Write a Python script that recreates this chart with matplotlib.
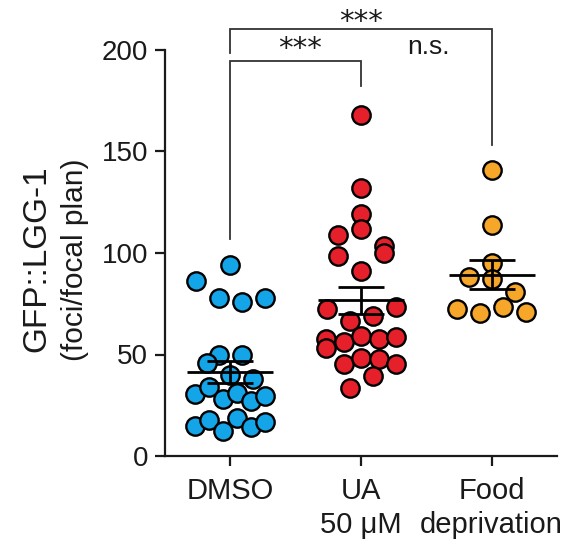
import numpy as np
import matplotlib
matplotlib.use("Agg")
import matplotlib.pyplot as plt

# ---------------- data ----------------
categories = ["DMSO", "UA\n50 μM", "Food\ndeprivation"]
dmso = [94, 86, 78, 76, 78, 50, 46, 50, 40, 38, 30.5, 34, 28, 31, 27, 29.5,
        15, 17.7, 12.3, 18.7, 14.3, 16.7]
ua = [168, 132, 119, 109, 112, 103.4, 98.5, 91, 100, 72.4, 66.5, 69, 73.4,
      57.6, 56, 59, 57.6, 58.6, 53, 45.3, 48.3, 47.8, 45.3, 33.5, 39.4]
food = [141, 114, 95, 88, 87, 81, 72.4, 70.4, 73.4, 71]
groups = [dmso, ua, food]
colors = ["#14A5E8", "#E5202A", "#F6A72A"]
yticks = [0, 50, 100, 150, 200]
ylabel_main = "GFP::LGG-1"
ylabel_sub = "(foci/focal plan)"
sig_pairs = [(0, 1, "***"), (0, 2, "***")]
sig_free = [(1, 2, "n.s.")]

plt.rcParams["font.family"] = ["Liberation Sans", "DejaVu Sans"]
ink = "#1a1a1a"

W, H = 584, 544
fig = plt.figure(figsize=(W / 100, H / 100), dpi=100)
ax = fig.add_axes([165 / W, (H - 456) / H, (557 - 165) / W, (456 - 50) / H])
ax.set_xlim(-0.5, 2.5)
ax.set_ylim(0, 200)

for s in ["top", "right"]:
    ax.spines[s].set_visible(False)
for s in ["left", "bottom"]:
    ax.spines[s].set_linewidth(1.6)
    ax.spines[s].set_color(ink)
ax.set_yticks(yticks)
ax.set_xticks(range(len(categories)))
ax.set_xticklabels(categories, fontsize=21, color=ink, linespacing=1.3)
ax.tick_params(axis="y", labelsize=20, length=7, width=1.6, pad=5, colors=ink)
ax.tick_params(axis="x", length=7, width=1.6, pad=8, colors=ink)

# pixel scale for the row (Prism-like) scatter layout
px_x = (557 - 165) / 3.0
row_span = 10.3     # values within this span share a row
gap_px = 23.0       # preferred spacing between neighbours in a row
half_px = 35.0      # max half width of a row


def row_layout(values, center):
    vals = np.asarray(values, dtype=float)
    order = np.argsort(vals, kind="stable")
    rows, cur = [], [order[0]]
    for i in order[1:]:
        if vals[i] - vals[cur[0]] <= row_span:
            cur.append(i)
        else:
            rows.append(cur)
            cur = [i]
    rows.append(cur)
    xs = np.zeros(len(vals))
    for r in rows:
        r = sorted(r)            # keep data order inside a row
        n = len(r)
        step = gap_px if n == 1 else min(gap_px, 2 * half_px / (n - 1))
        for k, i in enumerate(r):
            xs[i] = center + (k - (n - 1) / 2) * step / px_x
    return xs


for gi, (vals, col) in enumerate(zip(groups, colors)):
    xs = row_layout(vals, gi)
    ax.scatter(xs, vals, s=175, color=col, edgecolor="black",
               linewidths=1.7, zorder=3, clip_on=False)
    v = np.asarray(vals, dtype=float)
    m = v.mean()
    sem = v.std(ddof=1) / np.sqrt(len(v))
    ax.hlines(m, gi - 0.33, gi + 0.33, color="black", lw=2, zorder=4)
    ax.hlines([m - sem, m + sem], gi - 0.175, gi + 0.175, color="black", lw=2, zorder=4)
    ax.vlines(gi, m - sem, m + sem, color="black", lw=2, zorder=4)

# significance brackets
bk = "#333333"
star_font = ["DejaVu Sans"]
ax.plot([0, 0, 1, 1], [107, 194.6, 194.6, 182.3], color=bk, lw=1.3,
        clip_on=False, solid_joinstyle="miter")
ax.text(0.53, 200.3, sig_pairs[0][2], ha="center", va="center", fontsize=21,
        color=ink, clip_on=False, family=star_font)
ax.plot([0, 0, 2, 2], [198.5, 210.3, 210.3, 153], color=bk, lw=1.3,
        clip_on=False, solid_joinstyle="miter")
ax.text(1.0, 214.0, sig_pairs[1][2], ha="center", va="center", fontsize=21,
        color=ink, clip_on=False, family=star_font)
ax.text(1.52, 201.5, sig_free[0][2], ha="center", va="center", fontsize=19,
        color=ink, clip_on=False)

fig.text(37 / W, 1 - 259 / H, ylabel_main, rotation=90, ha="center",
         va="center", fontsize=24, color=ink)
fig.text(75 / W, 1 - 260 / H, ylabel_sub, rotation=90, ha="center",
         va="center", fontsize=21.5, color=ink)

fig.savefig("out.png", dpi=100)
